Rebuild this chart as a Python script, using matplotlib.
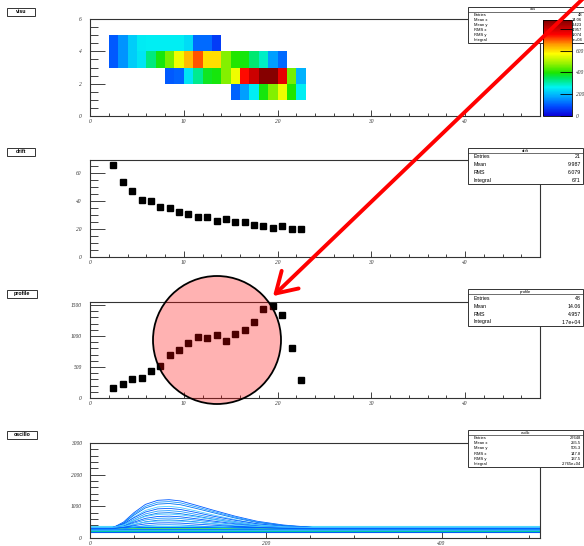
import numpy as np
import matplotlib.pyplot as plt
from matplotlib.colors import LinearSegmentedColormap
from matplotlib.patches import Rectangle, Circle, FancyArrowPatch
from matplotlib.ticker import MultipleLocator

W, H = 584, 546

# ---------------- data ----------------
# visu: 2D map, one list per y row (row y .. y+1), starting at x bin "start"
visu_row1_start = 15
visu_row1 = [110, 170, 260, 390, 470, 560, 400, 260]
visu_row2_start = 8
visu_row2 = [100, 110, 250, 320, 380, 390, 470, 560, 740, 800, 870, 870, 770, 460, 190]
visu_row3_start = 2
visu_row3 = [100, 160, 220, 250, 330, 390, 460, 560, 630, 700, 600, 600, 470, 400, 390, 340, 290, 170, 120]
visu_row4_start = 2
visu_row4 = [100, 160, 220, 255, 260, 260, 260, 260, 240, 120, 120, 70]

bin_centers = [2.5, 3.5, 4.5, 5.5, 6.5, 7.5, 8.5, 9.5, 10.5, 11.5, 12.5,
               13.5, 14.5, 15.5, 16.5, 17.5, 18.5, 19.5, 20.5, 21.5, 22.5]
drift_y = [66, 54, 47, 41, 40, 36, 35, 32, 31, 29, 29,
           26, 27, 25, 25, 23, 22, 21, 22, 20, 20]
profile_y = [160, 234, 303, 325, 436, 516, 697, 782, 894, 990, 968,
             1011, 926, 1027, 1096, 1234, 1436, 1484, 1346, 814, 293]

# oscillo: a handful of the overlaid waveforms
osc_x = [0, 25, 38, 50, 63, 77, 90, 103, 120, 140, 165, 190, 220, 255, 512]
osc_traces = [
    [300, 310, 500, 800, 1060, 1190, 1210, 1170, 1040, 880, 690, 530, 410, 330, 300],
    [290, 300, 470, 760, 1000, 1130, 1150, 1110, 990, 840, 660, 510, 400, 320, 290],
    [310, 320, 460, 720, 950, 1070, 1090, 1050, 940, 800, 630, 490, 390, 330, 310],
    [280, 290, 420, 660, 870, 980, 1000, 960, 860, 730, 580, 450, 360, 300, 280],
    [320, 330, 440, 640, 820, 920, 935, 900, 810, 690, 560, 450, 370, 330, 320],
    [300, 310, 410, 590, 760, 850, 865, 835, 750, 640, 520, 420, 350, 310, 300],
    [270, 280, 370, 540, 700, 785, 800, 770, 695, 595, 485, 390, 320, 280, 270],
    [330, 335, 410, 550, 680, 745, 755, 730, 665, 580, 490, 410, 355, 330, 330],
    [290, 295, 370, 500, 620, 680, 690, 670, 610, 535, 450, 375, 320, 295, 290],
    [310, 315, 370, 470, 570, 620, 630, 615, 565, 500, 430, 370, 330, 310, 310],
    [280, 285, 330, 420, 510, 560, 570, 555, 510, 450, 385, 330, 295, 280, 280],
    [320, 322, 360, 430, 500, 535, 540, 530, 495, 450, 400, 360, 335, 322, 320],
    [300, 302, 335, 390, 445, 475, 480, 470, 440, 405, 365, 335, 312, 302, 300],
    [260, 262, 290, 340, 390, 415, 420, 412, 385, 350, 315, 290, 272, 262, 260],
]
osc_baseline = [200, 230, 255, 280, 300, 320, 345, 370]

stats_visu = [("Entries", "48"), ("Mean x", "14.06"), ("Mean y", "2.423"),
              ("RMS x", "4.957"), ("RMS y", "1.074"), ("Integral", "1.7e+04")]
stats_drift = [("Entries", "21"), ("Mean", "9.987"), ("RMS", "6.079"), ("Integral", "671")]
stats_profile = [("Entries", "48"), ("Mean", "14.06"), ("RMS", "4.957"), ("Integral", "1.7e+04")]
stats_osc = [("Entries", "27648"), ("Mean x", "255.5"), ("Mean y", "505.3"),
             ("RMS x", "147.8"), ("RMS y", "137.5"), ("Integral", "2.765e+04")]

# ---------------- helpers ----------------
plt.rcParams['font.family'] = 'Liberation Serif'
plt.rcParams['axes.linewidth'] = 0.8


def rect(l, t, r, b):
    return [l / W, 1 - b / H, (r - l) / W, (b - t) / H]


def style(ax, xmaj, xmin, ymaj, ymin):
    ax.xaxis.set_major_locator(MultipleLocator(xmaj))
    ax.xaxis.set_minor_locator(MultipleLocator(xmin))
    ax.yaxis.set_major_locator(MultipleLocator(ymaj))
    ax.yaxis.set_minor_locator(MultipleLocator(ymin))
    ax.tick_params(which='both', direction='in', top=False, right=False,
                   labelsize=4, width=0.6, color='#222222')
    ax.tick_params(axis='y', which='major', length=11, pad=6)
    ax.tick_params(axis='y', which='minor', length=5.5)
    ax.tick_params(axis='x', which='major', length=4, pad=2.5)
    ax.tick_params(axis='x', which='minor', length=2)
    for lab in ax.get_xticklabels() + ax.get_yticklabels():
        lab.set_fontstyle('italic')
        lab.set_color('#333333')
    for s in ax.spines.values():
        s.set_color('#333333')


fig = plt.figure(figsize=(W / 100, H / 100), dpi=100)

# ---------------- visu ----------------
cmap = LinearSegmentedColormap.from_list('root', [
    (0.0, (0.05, 0.0, 0.85)), (0.1, (0.0, 0.3, 1.0)), (0.2, (0.0, 0.65, 1.0)),
    (0.3, (0.0, 0.95, 0.95)), (0.4, (0.0, 0.9, 0.35)), (0.45, (0.1, 0.9, 0.0)),
    (0.55, (0.6, 0.95, 0.0)), (0.65, (1.0, 1.0, 0.0)), (0.75, (1.0, 0.6, 0.0)),
    (0.85, (1.0, 0.0, 0.0)), (1.0, (0.5, 0.0, 0.0))])

grid = np.full((6, 48), np.nan)
for y, start, row in [(1, visu_row1_start, visu_row1), (2, visu_row2_start, visu_row2),
                      (3, visu_row3_start, visu_row3), (4, visu_row4_start, visu_row4)]:
    grid[y, start:start + len(row)] = row

ax1 = fig.add_axes(rect(90, 19, 540, 116))
mesh = ax1.pcolormesh(np.arange(49), np.arange(7), grid, cmap=cmap, vmin=0, vmax=880)
ax1.set_xlim(0, 48)
ax1.set_ylim(0, 6)
style(ax1, 10, 2, 2, 0.5)

# ---------------- drift ----------------
ax2 = fig.add_axes(rect(90, 160, 540, 257))
ax2.plot(bin_centers, drift_y, 's', color='black', markersize=4.3)
ax2.set_xlim(0, 48)
ax2.set_ylim(0, 69.5)
style(ax2, 10, 2, 20, 5)

# ---------------- profile ----------------
ax3 = fig.add_axes(rect(90, 302, 540, 398))
ax3.plot(bin_centers, profile_y, 's', color='black', markersize=4.3)
ax3.set_xlim(0, 48)
ax3.set_ylim(0, 1550)
style(ax3, 10, 2, 500, 100)

# ---------------- oscillo ----------------
ax4 = fig.add_axes(rect(90, 443, 540, 538))
ax4.fill_between([0, 512], 190, 380, color=(0.55, 0.9, 1.0), lw=0)
base_cols = [(0.0, 0.35, 1.0), (0.0, 0.8, 0.6), (0.2, 0.7, 1.0), (0.2, 0.85, 0.5),
             (0.0, 0.5, 1.0), (0.3, 0.9, 0.4), (0.0, 0.4, 1.0), (0.3, 0.85, 1.0)]
for lev, c in zip(osc_baseline, base_cols):
    ax4.plot([0, 512], [lev, lev], color=c, lw=0.8)
trace_cols = [(0.0, 0.35, 1.0), (0.1, 0.6, 1.0), (0.0, 0.45, 0.95), (0.3, 0.8, 1.0)]
for i, tr in enumerate(osc_traces):
    ax4.plot(osc_x, tr, color=trace_cols[i % 4], lw=0.6)
ax4.set_xlim(0, 512)
ax4.set_ylim(0, 3000)
style(ax4, 200, 50, 1000, 200)

# ---------------- boxes in pixel coordinates ----------------
ov = fig.add_axes([0, 0, 1, 1], zorder=2)
ov.set_xlim(0, W)
ov.set_ylim(H, 0)
ov.axis('off')
ov.patch.set_alpha(0)


def stats(l, t, r, b, title, rows, fs, vx=None):
    ov.add_patch(Rectangle((l, t), r - l, b - t, facecolor='white',
                           edgecolor='#333333', lw=0.7))
    th = 5
    ov.plot([l, r], [t + th, t + th], color='#333333', lw=0.5)
    ov.text((l + r) / 2, t + th / 2, title,
            ha='center', va='center', fontsize=fs * 0.8, family='Liberation Sans')
    rh = (b - t - th) / len(rows)
    vx = r - 2 if vx is None else vx
    for i, (k, v) in enumerate(rows):
        y = t + th + rh * (i + 0.5)
        ov.text(l + 6, y, k, ha='left', va='center', fontsize=fs, family='Liberation Sans')
        ov.text(vx, y, v, ha='right', va='center', fontsize=fs, family='Liberation Sans')


stats(468, 7, 598, 43, "visu", stats_visu, 3.0, vx=582)
stats(468, 148, 583, 184, "drift", stats_drift, 3.8)
stats(468, 289, 583, 326, "profile", stats_profile, 3.8)
stats(468, 430, 583, 467, "oscillo", stats_osc, 3.0)

for name, t, r in [("visu", 8, 35), ("drift", 148, 35), ("profile", 290, 37), ("oscillo", 431, 37)]:
    ov.add_patch(Rectangle((7, t), r - 7, 7.5, facecolor='white', edgecolor='#333333', lw=0.7))
    ov.text((7 + r) / 2, t + 3.9, name, ha='center', va='center', fontsize=3.8,
            fontweight='bold', family='Liberation Sans')

# ---------------- colour bar ----------------
cax = fig.add_axes(rect(543, 20, 572, 116), zorder=3)
cb = fig.colorbar(mesh, cax=cax, ticks=[0, 200, 400, 600, 800])
cb.ax.set_yticklabels(['0', '200', '400', '600', ''])  # 800 hidden under the stats box
cb.outline.set_linewidth(0.6)
cax.tick_params(direction='in', length=9, width=0.6, labelsize=4, pad=3)
for lab in cax.get_yticklabels():
    lab.set_fontstyle('italic')
    lab.set_color('#333333')

# ---------------- annotation: circle and arrow ----------------
top = fig.add_axes([0, 0, 1, 1], zorder=10)
top.set_xlim(0, W)
top.set_ylim(H, 0)
top.axis('off')
top.patch.set_alpha(0)
top.add_patch(Circle((217, 340), 64, facecolor=(1, 0, 0, 0.3),
                     edgecolor='black', lw=1.3))
top.add_patch(FancyArrowPatch((592, -10), (271, 298),
                              arrowstyle='->,head_length=0.9,head_width=0.55',
                              mutation_scale=16, color=(1, 0, 0), lw=2.8))

fig.savefig('out.png', dpi=100)
